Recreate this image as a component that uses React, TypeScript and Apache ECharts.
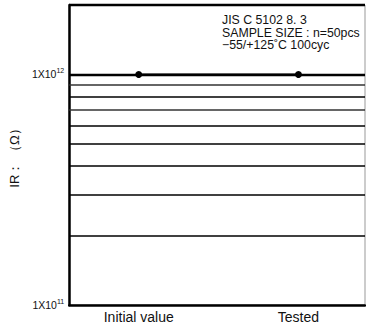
import React, { useEffect, useRef } from "react";
import * as echarts from "echarts";

// Insulation resistance before / after thermal shock
const categories = ["Initial value", "Tested"];
const categoryPositions = [0.235, 0.775];
const irValues = [1e12, 1e12];
// Log-decade reference lines
const gridValues = [2e11, 3e11, 4e11, 5e11, 6e11, 7e11, 8e11, 9e11, 1e12, 2e12];
const noteLines = ["JIS C 5102 8. 3", "SAMPLE SIZE : n=50pcs", "\u221255/+125\u02daC 100cyc"];

export default function App() {
  const ref = useRef<HTMLDivElement>(null);

  useEffect(() => {
    if (!ref.current) return;
    const chart = echarts.init(ref.current, undefined, { renderer: "svg" });
    const font = "'Liberation Sans', Arial, sans-serif";

    chart.setOption({
      animation: false,
      backgroundColor: "#fff",
      grid: {
        left: 67,
        right: 1,
        top: 5,
        bottom: 24,
        show: true,
        borderColor: "#999",
        borderWidth: 1,
      },
      xAxis: {
        type: "value",
        min: 0,
        max: 1,
        axisLine: { show: true, onZero: false, lineStyle: { color: "#000", width: 2.5 } },
        axisTick: { show: false },
        splitLine: { show: false },
        axisLabel: {
          customValues: categoryPositions,
          formatter: (v: number) => {
            const i = categoryPositions.findIndex((p) => Math.abs(p - v) < 1e-6);
            return i >= 0 ? categories[i] : "";
          },
          color: "#111",
          fontFamily: font,
          fontSize: 14,
          margin: 5,
        },
      },
      yAxis: {
        type: "log",
        logBase: 10,
        min: 1e11,
        max: 2e12,
        name: "IR\uff1a \uff08\u03a9\uff09",
        nameLocation: "middle",
        nameGap: 42,
        nameRotate: 90,
        nameTextStyle: { color: "#111", fontSize: 13, fontFamily: font },
        axisLine: { show: true, lineStyle: { color: "#000", width: 2.5 } },
        axisTick: { show: false },
        splitLine: { show: false },
        axisLabel: {
          showMaxLabel: false,
          margin: 5,
          formatter: (v: number) => {
            const e = Math.round(Math.log10(v));
            if (Math.abs(Math.log10(v) - e) > 1e-6) return "";
            return "1X10{sup|" + e + "}";
          },
          rich: {
            sup: { fontSize: 7, verticalAlign: "top", padding: [0, 0, 7, 0], fontFamily: font, color: "#111" },
          },
          color: "#111",
          fontFamily: font,
          fontSize: 10.5,
        },
      },
      series: [
        {
          type: "line",
          data: categoryPositions.map((x, i) => [x, irValues[i]]),
          symbol: "circle",
          symbolSize: 7,
          itemStyle: { color: "#000" },
          lineStyle: { color: "#000", width: 2 },
          z: 5,
          markLine: {
            silent: true,
            symbol: "none",
            label: { show: false },
            data: gridValues.map((v) => ({
              yAxis: v,
              lineStyle: {
                color: v === 9e11 || v === 7e11 ? "#333" : "#000",
                width: v === 1e12 || v === 2e12 ? 2.4 : 1.6,
                type: "solid",
              },
            })),
          },
        },
      ],
      graphic: noteLines.map((t, i) => ({
        type: "text",
        left: 222,
        top: 14 + i * 12.5,
        style: { text: t, fill: "#111", fontSize: 12.3, fontFamily: font },
      })),
    });

    return () => chart.dispose();
  }, []);

  return <div ref={ref} style={{ width: 366, height: 329, position: "absolute", left: 0, top: 0 }} />;
}
